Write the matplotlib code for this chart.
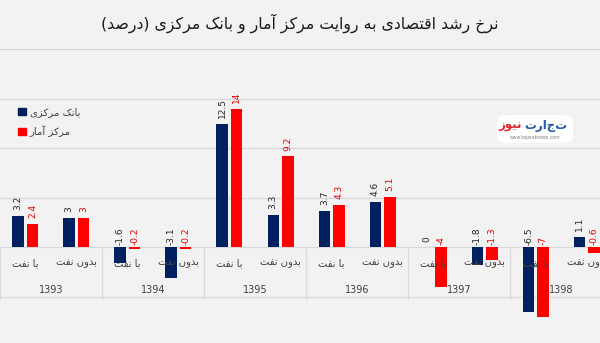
import matplotlib
matplotlib.use('Agg')
import matplotlib.pyplot as plt
from matplotlib.patches import FancyBboxPatch, Patch

# growth rates (%) by year, with oil / without oil
years = ['1393', '1394', '1395', '1396', '1397', '1398']
sub_labels = ['با نفت', 'بدون نفت']
cbi_values = [3.2, 3, -1.6, -3.1, 12.5, 3.3, 3.7, 4.6, 0, -1.8, -6.5, 1.1]
sci_values = [2.4, 3, -0.2, -0.2, 14, 9.2, 4.3, 5.1, -4, -1.3, -7, -0.6]
series_names = ['بانک مرکزی', 'مرکز آمار']
title_text = 'نرخ رشد اقتصادی به روایت مرکز آمار و بانک مرکزی (درصد)'

NAVY = '#002060'
RED = '#ff0000'
BG = '#f2f2f2'
GRID = '#d9d9d9'
TXT = '#404040'

# contextual forms: isolated, final, initial, medial
FORMS = {
    '\u0627': ('\uFE8D', '\uFE8E', None, None),
    '\u0622': ('\uFE81', '\uFE82', None, None),
    '\u0628': ('\uFE8F', '\uFE90', '\uFE91', '\uFE92'),
    '\u062A': ('\uFE95', '\uFE96', '\uFE97', '\uFE98'),
    '\u062E': ('\uFEA5', '\uFEA6', '\uFEA7', '\uFEA8'),
    '\u062F': ('\uFEA9', '\uFEAA', None, None),
    '\u0631': ('\uFEAD', '\uFEAE', None, None),
    '\u0632': ('\uFEAF', '\uFEB0', None, None),
    '\u0634': ('\uFEB5', '\uFEB6', '\uFEB7', '\uFEB8'),
    '\u0635': ('\uFEB9', '\uFEBA', '\uFEBB', '\uFEBC'),
    '\u0641': ('\uFED1', '\uFED2', '\uFED3', '\uFED4'),
    '\u0642': ('\uFED5', '\uFED6', '\uFED7', '\uFED8'),
    '\u06A9': ('\uFB8E', '\uFB8F', '\uFB90', '\uFB91'),
    '\u0645': ('\uFEE1', '\uFEE2', '\uFEE3', '\uFEE4'),
    '\u0646': ('\uFEE5', '\uFEE6', '\uFEE7', '\uFEE8'),
    '\u0647': ('\uFEE9', '\uFEEA', '\uFEEB', '\uFEEC'),
    '\u0648': ('\uFEED', '\uFEEE', None, None),
    '\u06CC': ('\uFBFC', '\uFBFD', '\uFBFE', '\uFBFF'),
}


def fa(text):
    """Join Persian letters and lay them out right-to-left."""
    out = []
    for i, ch in enumerate(text):
        if ch not in FORMS:
            out.append(ch)
            continue
        iso, fin, ini, med = FORMS[ch]
        prev = text[i - 1] if i > 0 else ''
        nxt = text[i + 1] if i + 1 < len(text) else ''
        join_prev = prev in FORMS and FORMS[prev][2] is not None
        join_next = ini is not None and nxt in FORMS
        if join_prev and join_next:
            out.append(med)
        elif join_prev:
            out.append(fin)
        elif join_next:
            out.append(ini)
        else:
            out.append(iso)
    mirror = {'(': ')', ')': '('}
    return ''.join(mirror.get(c, c) for c in reversed(out))


plt.rcParams['font.family'] = ['DejaVu Sans']

fig = plt.figure(figsize=(6, 3.43), dpi=100, facecolor=BG)
# plot area runs slightly past the figure edges on the left, right and bottom
ax = fig.add_axes([-0.0006, -0.0102, 1.0214, 0.8665])
ax.set_facecolor(BG)

n = len(cbi_values)
xs = list(range(n))
w = 0.225
off = 0.142
b1 = ax.bar([x - off for x in xs], cbi_values, w, color=NAVY, zorder=2)
b2 = ax.bar([x + off for x in xs], sci_values, w, color=RED, zorder=2)

ax.set_xlim(-0.5, n - 0.5)
ax.set_ylim(-10, 20)
ax.set_yticks(range(-10, 21, 5))
ax.grid(axis='y', color=GRID, linewidth=0.9, zorder=0)
ax.tick_params(left=False, bottom=False, labelleft=False, labelbottom=False)
for s in ax.spines.values():
    s.set_visible(False)

# value labels, rotated
for bars, vals, col in ((b1, cbi_values, '#262626'), (b2, sci_values, '#e00000')):
    for rect, v in zip(bars, vals):
        cx = rect.get_x() + rect.get_width() / 2
        base = max(v, 0)
        ax.annotate(f'{v:g}', (cx, base), xytext=(0, 4 if v >= 0 else 1.5),
                    textcoords='offset points', rotation=90, ha='center',
                    va='bottom', fontsize=6.5, color=col, zorder=4)

# two-level category axis
for i in range(n):
    ax.text(i, -1.6, fa(sub_labels[i % 2]), ha='center', va='center',
            fontsize=7.2, color=TXT, zorder=5)
for g, yr in enumerate(years):
    ax.text(2 * g + 0.5, -4.25, yr, ha='center', va='center',
            fontsize=7, color=TXT, zorder=5)
for g in range(len(years) + 1):
    ax.plot([2 * g - 0.5] * 2, [0, -5.2], color=GRID, linewidth=0.9, zorder=1)

fig.text(0.5, 1 - 23 / 343, fa(title_text), ha='center', va='center',
         fontsize=11.3, color='#1a1a1a')

leg = fig.legend([Patch(color=NAVY), Patch(color=RED)],
                 [fa(t) for t in series_names], loc='upper left',
                 bbox_to_anchor=(0.015, 1 - 98 / 343), frameon=False,
                 fontsize=7.3, handlelength=0.75, handleheight=0.75,
                 handletextpad=0.4, labelspacing=0.85, labelcolor=TXT)

# site logo
logo = FancyBboxPatch((497 / 600, 1 - 143 / 343), 76 / 600, 28 / 343,
                      boxstyle='round,pad=0,rounding_size=0.02',
                      transform=fig.transFigure, facecolor='white',
                      edgecolor='none')
fig.patches.append(logo)
fig.text(524 / 600, 1 - 125 / 343, fa('تجارت'), ha='left', va='center',
         fontsize=8.5, fontweight='bold', color='#1f5aa6')
fig.text(522 / 600, 1 - 125 / 343, fa('نیوز'), ha='right', va='center',
         fontsize=8.5, fontweight='bold', color='#e3262c')
fig.text(535 / 600, 1 - 137.5 / 343, 'www.tejaratnews.com', ha='center',
         va='center', fontsize=3.3, color='#808080')

fig.savefig('out.png', dpi=100, facecolor=BG)
